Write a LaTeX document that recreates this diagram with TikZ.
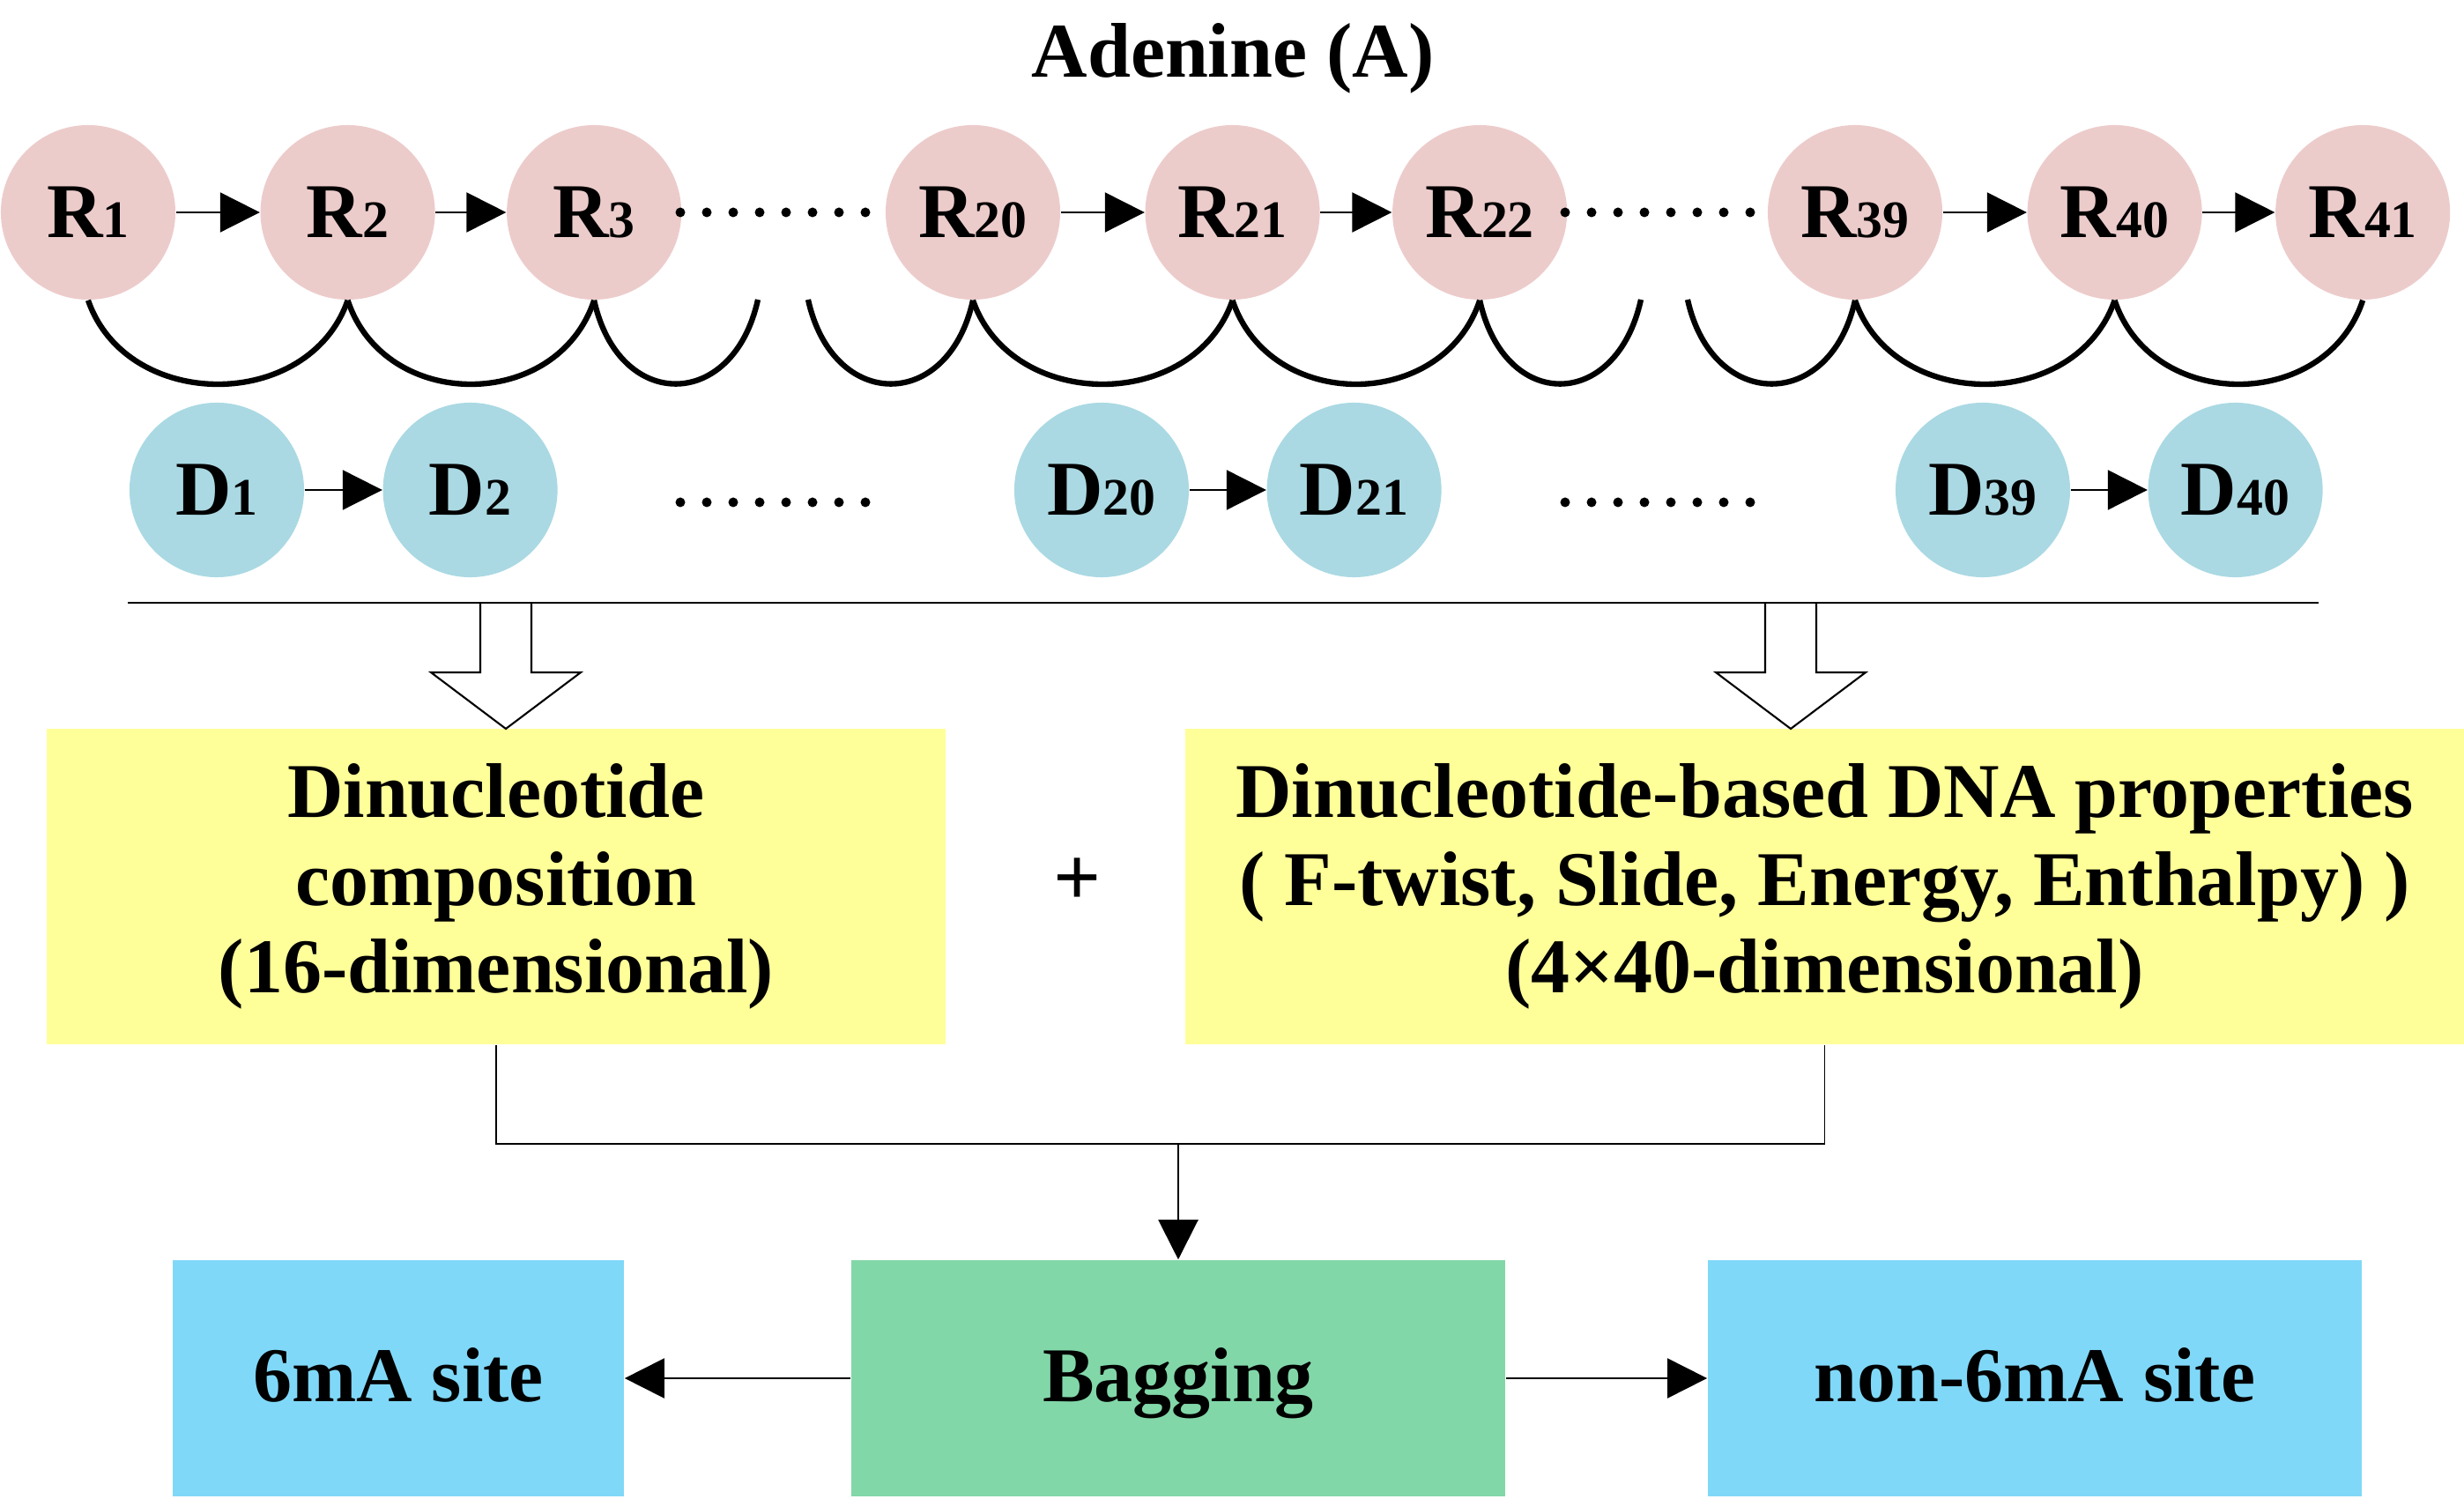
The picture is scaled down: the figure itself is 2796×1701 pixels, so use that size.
\documentclass[tikz,border=0pt]{standalone}
\usepackage{fontspec}
\setmainfont{Liberation Serif}
\usepackage{tikz}
\usetikzlibrary{arrows.meta,positioning,calc}
\definecolor{rpink}{RGB}{236,204,203}
\definecolor{dblue}{RGB}{170,217,227}
\definecolor{featyellow}{RGB}{255,255,153}
\definecolor{siteblue}{RGB}{128,216,248}
\definecolor{baggreen}{RGB}{130,215,168}
\newcommand{\ix}[1]{{\fontsize{17}{17}\selectfont #1}}
\newcommand{\blockarrow}[1]{\draw[thinline, fill=white] ($(#1)+(-29,-143)$) -- ++(0,79) -- ++(-56,0) -- (#1) -- ++(85,-64) -- ++(-56,0) -- ++(0,-79);}

\begin{document}
\begin{tikzpicture}[
    x=0.01cm, y=-0.01cm,
    font=\fontsize{25}{28.2}\selectfont\bfseries,
    rnode/.style={circle, fill=rpink, minimum size=1.98cm, inner sep=0pt},
    dnode/.style={circle, fill=dblue, minimum size=1.98cm, inner sep=0pt},
    featbox/.style={rectangle, fill=featyellow, minimum height=3.58cm, align=center, inner sep=0pt},
    sitebox/.style={rectangle, fill=siteblue, minimum width=5.12cm, minimum height=2.68cm, text height=17pt, text depth=2.2pt},
    link/.style={-{Triangle[length=0.45cm, width=0.45cm]}, line width=0.6pt},
    hump/.style={line width=1.8pt},
    thinline/.style={line width=0.6pt}
]
    \useasboundingbox (0,0) rectangle (2796,1701);

    % Title
    \node[anchor=base] (title) at (1399,88) {Adenine (A)};

    % Residues
    \node[rnode] (r1) at (100,241) {R\ix{1}};
    \node[rnode, right=0.95cm of r1] (r2) {R\ix{2}};
    \node[rnode, right=0.80cm of r2] (r3) {R\ix{3}};
    \node[rnode] (r20) at (1104,241) {R\ix{20}};
    \node[rnode, right=0.95cm of r20] (r21) {R\ix{21}};
    \node[rnode, right=0.81cm of r21] (r22) {R\ix{22}};
    \node[rnode] (r39) at (2105,241) {R\ix{39}};
    \node[rnode, right=0.95cm of r39] (r40) {R\ix{40}};
    \node[rnode, right=0.82cm of r40] (r41) {R\ix{41}};

    \draw[link] (r1) -- (r2);
    \draw[link] (r2) -- (r3);
    \draw[link] (r20) -- (r21);
    \draw[link] (r21) -- (r22);
    \draw[link] (r39) -- (r40);
    \draw[link] (r40) -- (r41);

    % Dinucleotides
    \node[dnode] (d1) at (246,556) {D\ix{1}};
    \node[dnode, right=0.88cm of d1] (d2) {D\ix{2}};
    \node[dnode] (d20) at (1250,556) {D\ix{20}};
    \node[dnode, right=0.87cm of d20] (d21) {D\ix{21}};
    \node[dnode] (d39) at (2250,556) {D\ix{39}};
    \node[dnode, right=0.87cm of d39] (d40) {D\ix{40}};

    \draw[link] (d1) -- (d2);
    \draw[link] (d20) -- (d21);
    \draw[link] (d39) -- (d40);

    % Dots
    \foreach \x in {772,802,...,982} {
        \fill (\x,241) circle[radius=0.055cm];
        \fill (\x,570) circle[radius=0.055cm];
    }
    \foreach \x in {1776,1806,...,1986} {
        \fill (\x,241) circle[radius=0.055cm];
        \fill (\x,570) circle[radius=0.055cm];
    }

    % Humps
    \coordinate (cut1) at (860,340);
    \coordinate (cut2) at (917,340);
    \coordinate (cut3) at (1862,340);
    \coordinate (cut4) at (1915,340);
    \draw[hump] (r1.south) .. controls +(44,127) and +(-44,127) .. (r2.south);
    \draw[hump] (r2.south) .. controls +(42,127) and +(-42,127) .. (r3.south);
    \draw[hump] (r3.south) .. controls +(28,127) and +(-28,127) .. (cut1);
    \draw[hump] (cut2) .. controls +(28,127) and +(-28,127) .. (r20.south);
    \draw[hump] (r20.south) .. controls +(44,127) and +(-44,127) .. (r21.south);
    \draw[hump] (r21.south) .. controls +(42,127) and +(-42,127) .. (r22.south);
    \draw[hump] (r22.south) .. controls +(28,127) and +(-28,127) .. (cut3);
    \draw[hump] (cut4) .. controls +(28,127) and +(-28,127) .. (r39.south);
    \draw[hump] (r39.south) .. controls +(44,127) and +(-44,127) .. (r40.south);
    \draw[hump] (r40.south) .. controls +(42,127) and +(-42,127) .. (r41.south);

    % Features
    \node[featbox, minimum width=10.2cm] (comp) at (563,1006) {Dinucleotide\\composition\\(16-dimensional)};
    \node[featbox, minimum width=14.51cm] (prop) at (2070.5,1006) {Dinucleotide-based DNA properties\\( F-twist, Slide, Energy, Enthalpy) )\\(4×40-dimensional)};
    \node (plus) at (1223,1001) {\fontsize{27}{27}\selectfont +};

    \coordinate (ltip) at (574,827);
    \coordinate (rtip) at (2032,827);
    \blockarrow{ltip}
    \blockarrow{rtip}
    \coordinate (lstart) at (145,684);
    \coordinate (lend) at (2631,684);
    \draw[thinline] (lstart) -- (lend);

    % Classifier
    \node[sitebox, fill=baggreen, minimum width=7.42cm] (bag) at (1337,1564) {Bagging};
    \node[sitebox] (pos) at (452,1564) {6mA site};
    \node[sitebox, minimum width=7.42cm] (neg) at (2309,1564) {non-6mA site};

    \coordinate (join) at (1337,1298);
    \draw[line width=0.5pt] (comp.south) |- (join) -| (prop.south);
    \draw[link] (join) -- (bag);
    \draw[link] (bag) -- (pos);
    \draw[link] (bag) -- (neg);

\end{tikzpicture}
\end{document}
